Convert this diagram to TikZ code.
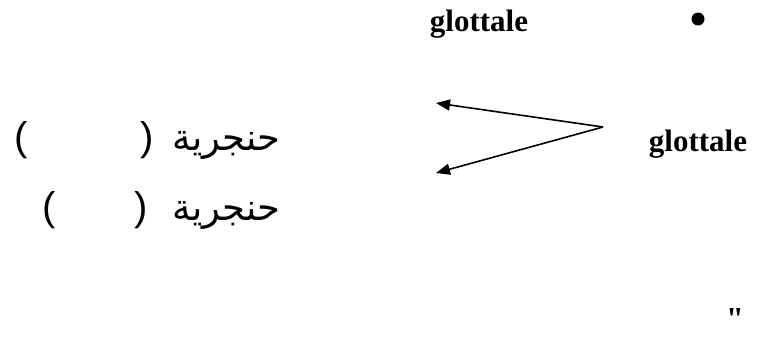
\documentclass[tikz,border=0pt]{standalone}
\usepackage{fontspec}
\setmainfont{Liberation Serif}
\newfontfamily\qfont{Liberation Serif}
\newfontfamily\arial{Liberation Sans}
\newfontfamily\arabicfont[Script=Arabic]{DejaVu Sans}
\TeXXeTstate=1
\usetikzlibrary{arrows.meta}
\tikzset{
  lat/.style={inner sep=0pt, anchor=base, font=\fontsize{31}{35}\selectfont\bfseries},
  parens/.style={inner sep=0pt, anchor=base, font=\fontsize{40}{46}\selectfont\arial},
  arab/.style={inner sep=0pt, anchor=base west, font=\fontsize{37}{43}\selectfont\arabicfont},
  arr/.style={line width=1.6pt, -{Triangle[length=14pt,width=11pt]}}
}
\begin{document}
\begin{tikzpicture}[x=1pt,y=-1pt]
\useasboundingbox (0,0) rectangle (763,338);
\node[lat] (g1) at (479,31) {glottale};
\node[circle, fill=black, inner sep=0pt, minimum size=13pt] (bul) at (698,19) {};
\node[lat] (g2) at (698,151) {glottale};
\coordinate (v) at (603,127);
\coordinate (t1) at (436,103);
\coordinate (t2) at (436,173);
\draw[arr] (v) -- (t1);
\draw[arr] (v) -- (t2);
\node[parens] (p1l) at (21,150) {(};
\node[parens] (p1r) at (147,150) {)};
\node[arab] (w1) at (172,150) {\beginR حنجرية\endR};
\node[parens] (p2l) at (49,220) {(};
\node[parens] (p2r) at (141,220) {)};
\node[arab] (w2) at (172,220) {\beginR حنجرية\endR};
\node[inner sep=0pt, anchor=base, font=\fontsize{32}{36}\selectfont\qfont\bfseries] (q) at (735,329) {"};
\end{tikzpicture}
\end{document}
